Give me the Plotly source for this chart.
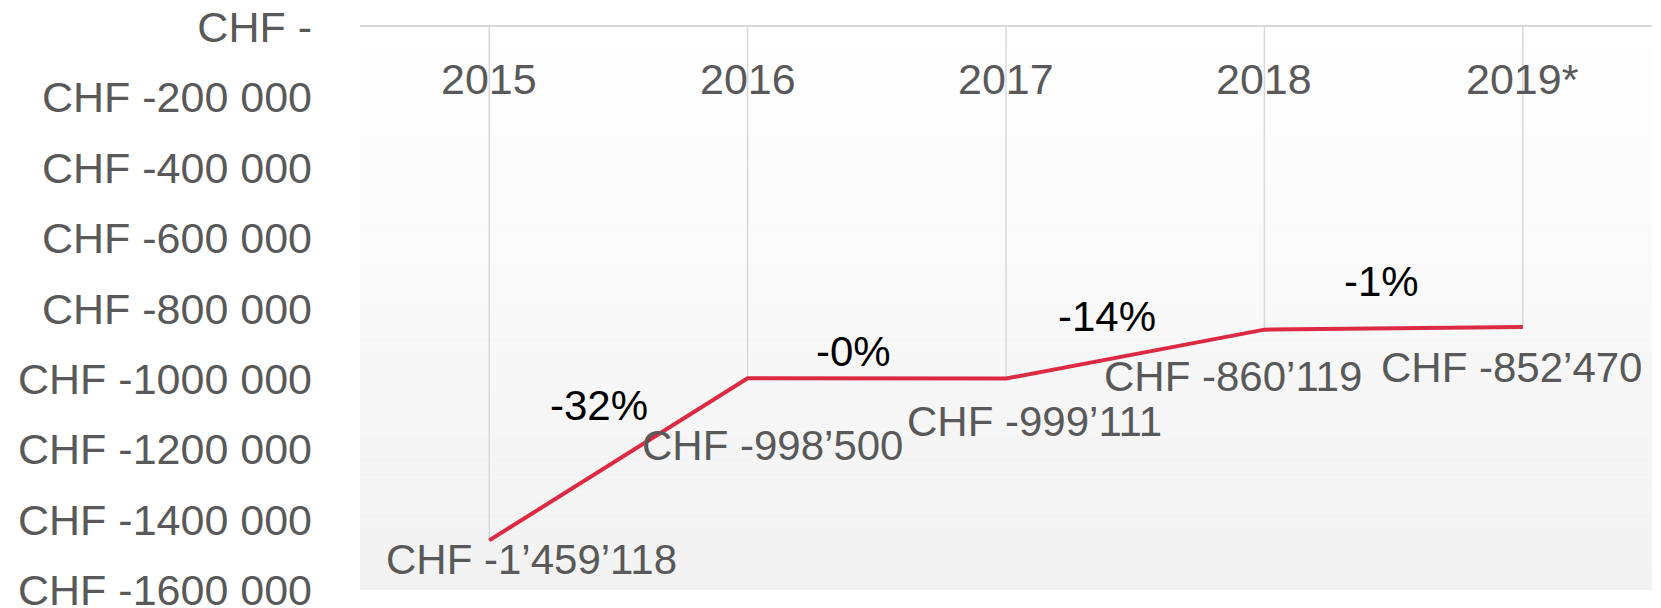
import plotly.graph_objects as go

# ---- data ----
years = ["2015", "2016", "2017", "2018", "2019*"]
values = [-1459118, -998500, -999111, -860119, -852470]
pct_labels = ["-32%", "-0%", "-14%", "-1%"]
y_tickvals = [0, -200000, -400000, -600000, -800000, -1000000, -1200000, -1400000, -1600000]
y_ticktext = ["CHF -", "CHF -200 000", "CHF -400 000", "CHF -600 000", "CHF -800 000",
              "CHF -1000 000", "CHF -1200 000", "CHF -1400 000", "CHF -1600 000"]

# ---- styles / label placement (pixel offsets) ----
FONT = "Liberation Sans, Arial, sans-serif"
GREY = "#595959"
RED = "#DC2A42"
GRID = "#D9D9D9"
year_label_shift = -52
value_label_shift = [(42, -19), (25, -67), (28, -43), (-31, -47), (-11, -41)]
pct_label_shift = [(-19, 54), (-23, 27), (-28, 38), (-12, 47)]

def fmt_chf(v):
    s = format(abs(v), ",").replace(",", "\u2019")
    return f"CHF -{s}"

fig = go.Figure()

# drop lines from 0 to each value
dx, dy = [], []
for c, v in zip(years, values):
    dx += [c, c, None]
    dy += [0, v, None]
fig.add_trace(go.Scatter(x=dx, y=dy, mode="lines", line=dict(color=GRID, width=1.5),
                         hoverinfo="skip", showlegend=False))

# main line
fig.add_trace(go.Scatter(x=years, y=values, mode="lines", line=dict(color=RED, width=4),
                         showlegend=False))

annotations = []
# category labels (inside the plot, under the zero line)
for i, c in enumerate(years):
    annotations.append(dict(x=i, y=0, xref="x", yref="y", text=c, showarrow=False,
                            yshift=year_label_shift,
                            font=dict(family=FONT, size=43, color=GREY)))
for i, (c, v) in enumerate(zip(years, values)):
    sx, sy = value_label_shift[i]
    annotations.append(dict(x=i, y=v, xref="x", yref="y", text=fmt_chf(v), showarrow=False,
                            xshift=sx, yshift=sy, font=dict(family=FONT, size=42, color=GREY)))
for i, t in enumerate(pct_labels):
    sx, sy = pct_label_shift[i]
    annotations.append(dict(x=i + 0.5, y=(values[i] + values[i + 1]) / 2, xref="x", yref="y",
                            text=t, showarrow=False, xshift=sx, yshift=sy,
                            font=dict(family=FONT, size=42, color="#000000")))

# gradient background bands
shapes = []
N = 80
for k in range(N):
    f = (k + 0.5) / N  # 0 at bottom, 1 at top
    g = round(242 + (255 - 242) * f)
    shapes.append(dict(type="rect", xref="paper", yref="paper", x0=0, x1=1,
                       y0=k / N, y1=(k + 1) / N, fillcolor=f"rgb({g},{g},{g})",
                       line=dict(width=0), layer="below"))

fig.update_layout(
    width=1661, height=608,
    margin=dict(l=360, r=9, t=27, b=18),
    paper_bgcolor="white", plot_bgcolor="white",
    font=dict(family=FONT, size=43, color=GREY),
    annotations=annotations, shapes=shapes,
    hovermode=False,
)
fig.update_xaxes(type="category", range=[-0.5, 4.5], side="top", showticklabels=False,
                 showgrid=False, zeroline=False, showline=True,
                 linecolor=GRID, linewidth=1.5, ticks="", automargin=False)
fig.update_yaxes(range=[-1600000, 0], tickvals=y_tickvals, ticktext=y_ticktext,
                 showgrid=False, zeroline=False, showline=False, ticks="",
                 ticklabeloverflow="allow", automargin=False,
                 ticklabelstandoff=47, tickfont=dict(family=FONT, size=43, color=GREY))

fig.write_html("out.html")
